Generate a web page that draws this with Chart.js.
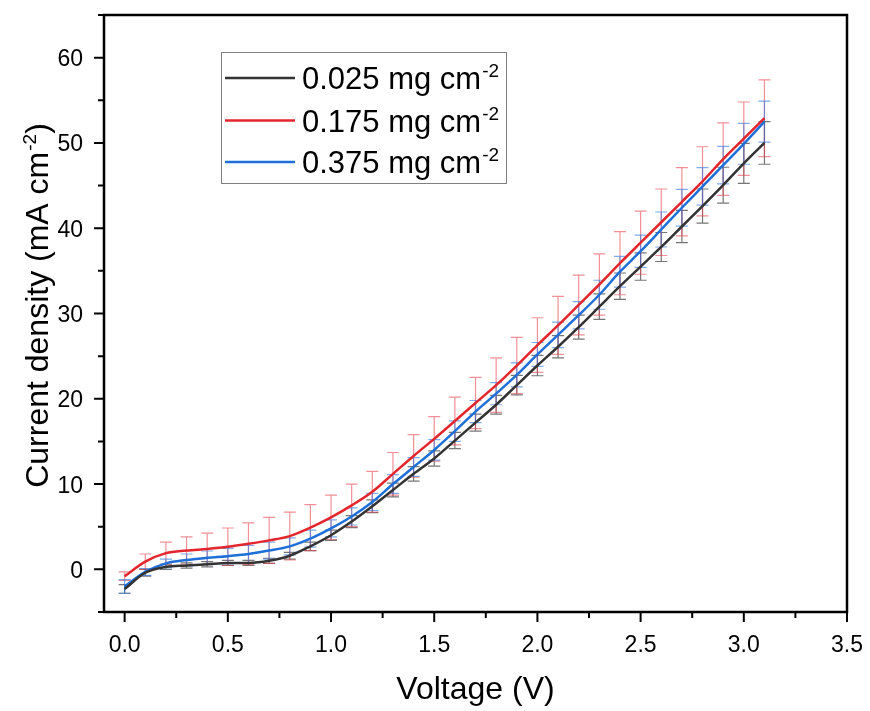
<!DOCTYPE html>
<html>
<head>
<meta charset="utf-8">
<script src="https://cdn.jsdelivr.net/npm/chart.js@4"></script>
<style>
  body { margin: 0; background: #fff; }
  #wrap { width: 870px; height: 711px; }
</style>
</head>
<body>
<div id="wrap"><canvas id="myChart" width="870" height="711"></canvas></div>
<script>
// voltage steps (V)
const voltage = [0, 0.1, 0.2, 0.3, 0.4, 0.5, 0.6, 0.7, 0.8, 0.9, 1.0, 1.1, 1.2, 1.3, 1.4, 1.5,
                 1.6, 1.7, 1.8, 1.9, 2.0, 2.1, 2.2, 2.3, 2.4, 2.5, 2.6, 2.7, 2.8, 2.9, 3.0, 3.1];

const seriesNames = ['0.025 mg cm', '0.175 mg cm', '0.375 mg cm'];

// current density (mA cm-2)
const j025 = [-2.3, -0.4, 0.3, 0.45, 0.6, 0.75, 0.75, 1.0, 1.6, 2.7, 4.0, 5.6, 7.4, 9.3, 11.2, 13.0,
              15.1, 17.2, 19.3, 21.6, 23.9, 26.1, 28.4, 30.8, 33.2, 35.5, 37.8, 40.2, 42.6, 45.05, 47.6, 50.0];
const j175 = [-0.8, 0.9, 1.9, 2.2, 2.4, 2.65, 3.0, 3.4, 3.9, 4.9, 6.1, 7.5, 9.1, 11.2, 13.3, 15.3,
              17.4, 19.5, 21.6, 23.9, 26.3, 28.6, 31.0, 33.4, 35.9, 38.3, 40.7, 43.1, 45.5, 48.1, 50.5, 52.9];
const j375 = [-2.0, -0.3, 0.7, 1.1, 1.35, 1.55, 1.8, 2.2, 2.7, 3.6, 4.8, 6.2, 7.9, 10.0, 12.0, 14.0,
              16.2, 18.5, 20.6, 22.8, 25.2, 27.5, 29.8, 32.2, 34.9, 37.3, 39.85, 42.4, 44.9, 47.4, 49.9, 52.5];

// error bars (+/-)
const e025 = [0.5, 0.4, 0.3, 0.3, 0.3, 0.3, 0.3, 0.3, 0.4, 0.5, 0.6, 0.7, 0.75, 0.8, 0.85, 0.9,
              0.95, 1.0, 1.1, 1.15, 1.2, 1.3, 1.4, 1.5, 1.55, 1.6, 1.7, 1.9, 2.0, 2.1, 2.35, 2.5];
const e175 = [0.5, 0.9, 1.3, 1.6, 1.85, 2.2, 2.45, 2.7, 2.8, 2.7, 2.6, 2.5, 2.4, 2.5, 2.5, 2.6,
              2.8, 3.0, 3.2, 3.3, 3.2, 3.4, 3.5, 3.6, 3.7, 3.7, 3.9, 4.0, 4.05, 4.25, 4.3, 4.5];
const e375 = [0.8, 0.4, 0.5, 0.7, 0.8, 0.9, 1.0, 1.0, 1.0, 1.0, 1.0, 1.0, 1.0, 1.1, 1.1, 1.2,
              1.2, 1.3, 1.3, 1.4, 1.4, 1.5, 1.6, 1.7, 1.8, 1.9, 2.05, 2.15, 2.2, 2.2, 2.4, 2.4];

const xTicks = [0, 0.5, 1.0, 1.5, 2.0, 2.5, 3.0, 3.5];
const xMinor = [0.25, 0.75, 1.25, 1.75, 2.25, 2.75, 3.25];
const yTicks = [0, 10, 20, 30, 40, 50, 60];
const yMinor = [-5, 5, 15, 25, 35, 45, 55, 65];

const lineColors = ['#333333', '#e3262c', '#1f6fd8'];
const barColors = ['rgba(60,60,60,0.7)', 'rgba(232,70,80,0.6)', 'rgba(40,115,225,0.6)'];
const ys = [j025, j175, j375];
const errs = [e025, e175, e375];

const FONT = '"Liberation Sans", Arial, sans-serif';

function toPoints(arr) {
    return voltage.map((v, i) => ({ x: v, y: arr[i] }));
}

// main text + small raised piece + tail
function supText(ctx, x, y, main, sup, tail, size, align) {
    ctx.font = size + 'px ' + FONT;
    let w1 = ctx.measureText(main).width;
    ctx.font = Math.round(size * 0.6) + 'px ' + FONT;
    let w2 = ctx.measureText(sup).width;
    ctx.font = size + 'px ' + FONT;
    let w3 = ctx.measureText(tail).width;
    let total = w1 + w2 + w3;
    let sx = align === 'center' ? x - total / 2 : x;
    ctx.textAlign = 'left';
    ctx.textBaseline = 'alphabetic';
    ctx.fillText(main, sx, y);
    ctx.font = Math.round(size * 0.6) + 'px ' + FONT;
    ctx.fillText(sup, sx + w1 + 1, y - size * 0.38);
    ctx.font = size + 'px ' + FONT;
    ctx.fillText(tail, sx + w1 + w2 + 1, y);
}

const errorBars = {
    id: 'errorBars',
    beforeDatasetsDraw(chart) {
        let ctx = chart.ctx;
        let xs = chart.scales.x, yS = chart.scales.y;
        ctx.save();
        ctx.lineWidth = 1.2;
        for (let s = 0; s < ys.length; s++) {
            ctx.strokeStyle = barColors[s];
            for (let i = 0; i < voltage.length; i++) {
                let px = xs.getPixelForValue(voltage[i]);
                let top = yS.getPixelForValue(ys[s][i] + errs[s][i]);
                let bot = yS.getPixelForValue(ys[s][i] - errs[s][i]);
                ctx.beginPath();
                ctx.moveTo(px, top); ctx.lineTo(px, bot);
                ctx.moveTo(px - 6, top); ctx.lineTo(px + 6, top);
                ctx.moveTo(px - 6, bot); ctx.lineTo(px + 6, bot);
                ctx.stroke();
            }
        }
        ctx.restore();
    }
};

const frameAndExtras = {
    id: 'frameAndExtras',
    afterDraw(chart) {
        let ctx = chart.ctx;
        let a = chart.chartArea;
        let xs = chart.scales.x, yS = chart.scales.y;
        ctx.save();
        // frame
        ctx.strokeStyle = '#000';
        ctx.lineWidth = 2.5;
        ctx.strokeRect(a.left, a.top, a.right - a.left, a.bottom - a.top);

        // ticks (major 10px, minor 6px)
        ctx.lineWidth = 2;
        ctx.beginPath();
        for (let v of xTicks) {
            let px = xs.getPixelForValue(v);
            ctx.moveTo(px, a.bottom); ctx.lineTo(px, a.bottom + 10);
        }
        for (let v of xMinor) {
            let px = xs.getPixelForValue(v);
            ctx.moveTo(px, a.bottom); ctx.lineTo(px, a.bottom + 6);
        }
        for (let v of yTicks) {
            let py = yS.getPixelForValue(v);
            ctx.moveTo(a.left, py); ctx.lineTo(a.left - 10, py);
        }
        for (let v of yMinor) {
            let py = yS.getPixelForValue(v);
            ctx.moveTo(a.left, py); ctx.lineTo(a.left - 6, py);
        }
        ctx.stroke();

        // tick labels
        ctx.fillStyle = '#000';
        ctx.font = '23px ' + FONT;
        ctx.textBaseline = 'alphabetic';
        ctx.textAlign = 'center';
        for (let v of xTicks) {
            ctx.fillText(v.toFixed(1), xs.getPixelForValue(v), 652);
        }
        ctx.textAlign = 'right';
        for (let v of yTicks) {
            ctx.fillText(String(v), 83, yS.getPixelForValue(v) + 8.5);
        }

        // axis titles
        ctx.font = '32px ' + FONT;
        ctx.textAlign = 'center';
        ctx.textBaseline = 'middle';
        ctx.fillText('Voltage (V)', (a.left + a.right) / 2, 690);
        ctx.save();
        ctx.translate(37, 306);
        ctx.rotate(-Math.PI / 2);
        supText(ctx, 0, 11, 'Current density (mA cm', '-2', ')', 32, 'center');
        ctx.restore();

        // legend box
        let lx = 221, ly = 52, lw = 285, lh = 131;
        ctx.strokeStyle = '#808080';
        ctx.lineWidth = 1;
        ctx.strokeRect(lx + 0.5, ly + 0.5, lw, lh);
        let rows = [78, 120.5, 162];
        for (let s = 0; s < seriesNames.length; s++) {
            ctx.strokeStyle = lineColors[s];
            ctx.lineWidth = 2.5;
            ctx.beginPath();
            ctx.moveTo(225, rows[s]); ctx.lineTo(295, rows[s]);
            ctx.stroke();
            ctx.fillStyle = '#000';
            supText(ctx, 302, rows[s] + 11, seriesNames[s], '-2', '', 31, 'left');
        }
        ctx.restore();
    }
};

let ctx = document.getElementById('myChart').getContext('2d');
let chart = new Chart(ctx, {
    type: 'line',
    data: {
        datasets: ys.map((arr, s) => ({
            label: seriesNames[s] + '-2',
            data: toPoints(arr),
            borderColor: lineColors[s],
            backgroundColor: lineColors[s],
            borderWidth: 2.5,
            pointRadius: 0,
            cubicInterpolationMode: 'monotone',
            fill: false
        }))
    },
    options: {
        responsive: false,
        animation: false,
        devicePixelRatio: 1,
        layout: { padding: { top: 15, right: 23, left: 0, bottom: 0 } },
        plugins: {
            legend: { display: false },
            tooltip: { enabled: false }
        },
        scales: {
            x: {
                type: 'linear',
                min: -0.1,
                max: 3.5,
                afterBuildTicks: (scale) => { scale.ticks = xTicks.map(v => ({ value: v })); },
                afterFit: (scale) => { scale.height = 99; },
                grid: { display: false },
                border: { display: false },
                ticks: { display: false }
            },
            y: {
                type: 'linear',
                min: -5,
                max: 65,
                afterBuildTicks: (scale) => { scale.ticks = yTicks.map(v => ({ value: v })); },
                afterFit: (scale) => { scale.width = 104; },
                grid: { display: false },
                border: { display: false },
                ticks: { display: false }
            }
        }
    },
    plugins: [errorBars, frameAndExtras]
});
</script>
</body>
</html>
